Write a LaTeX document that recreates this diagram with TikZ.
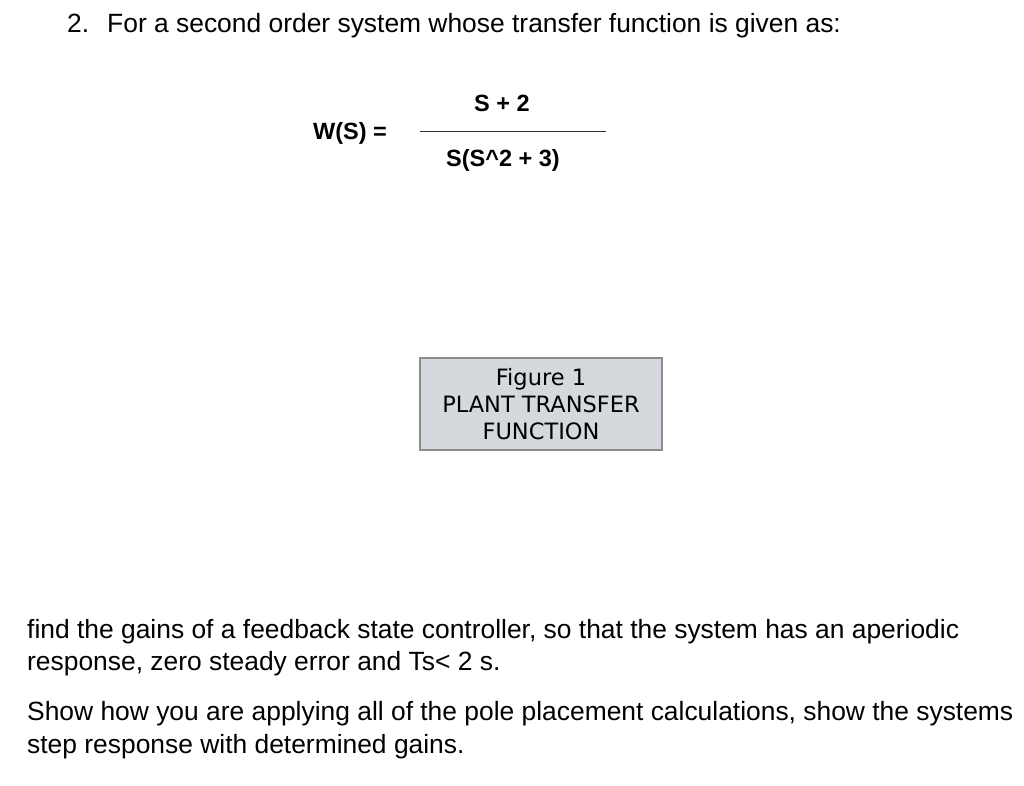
\documentclass[tikz,border=0pt]{standalone}
\usepackage{fontspec}
\setmainfont{Liberation Sans}
\newfontfamily\boxfont{DejaVu Sans}
\begin{document}
\begin{tikzpicture}[x=1pt,y=-1pt,
  body/.style={anchor=base west,inner sep=0pt,font=\fontsize{26.4}{30}\selectfont},
  frm/.style={inner sep=0pt,font=\fontsize{23.5}{27}\selectfont\bfseries}]
\useasboundingbox (0,0) rectangle (1024,785);
\node[body] (q) at (67,32) {2.\hspace{18pt}For a second order system whose transfer function is given as:};
\node[frm,anchor=base west] (w) at (313,139) {W(S) =};
\coordinate (la) at (420,131);
\coordinate (lb) at (606,131);
\draw[line width=0.8pt,black!80] (la) -- (lb);
\node[frm,anchor=base] (num) at (502,111) {S + 2};
\node[frm,anchor=base] (den) at (503,166) {S(S\textasciicircum2 + 3)};
\node[draw=black!45,line width=1.3pt,fill={rgb,255:red,213;green,217;blue,221},minimum width=242pt,minimum height=92pt,align=center,inner sep=0pt,font=\boxfont\fontsize{22.5}{27}\selectfont] (box) at (541,404) {Figure 1\\PLANT TRANSFER\\FUNCTION};
\node[body] (p1) at (27,638) {find the gains of a feedback state controller, so that the system has an aperiodic};
\node[body] (p2) at (27,670) {response, zero steady error and Ts< 2 s.};
\node[body] (p3) at (27,720) {Show how you are applying all of the pole placement calculations, show the systems};
\node[body] (p4) at (27,753) {step response with determined gains.};
\end{tikzpicture}
\end{document}
